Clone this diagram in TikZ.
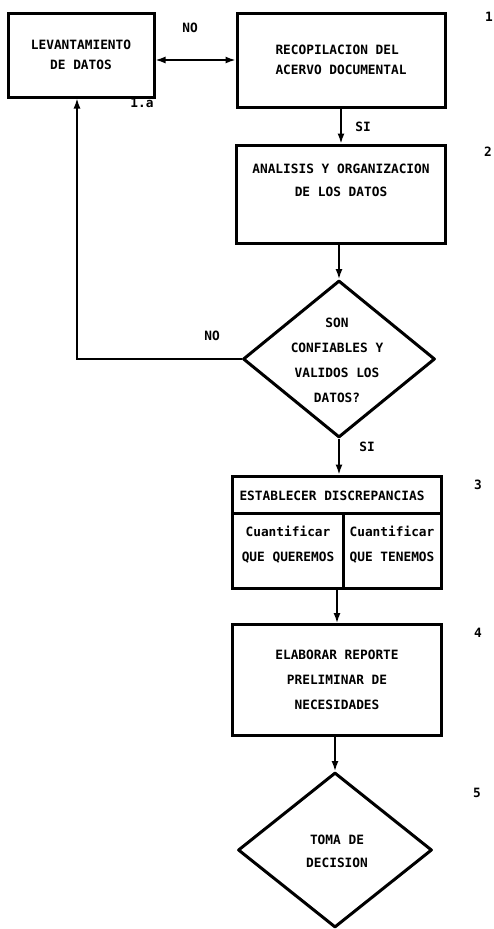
\documentclass[tikz,border=0pt]{standalone}
\usepackage{fontspec}
\setmonofont{DejaVu Sans Mono}
\usetikzlibrary{shapes.geometric,arrows.meta}
\tikzset{
  caja/.style={draw, rectangle, line width=3pt, inner sep=0pt},
  rombo/.style={draw, diamond, line width=3pt, inner sep=0pt, line join=round},
  texto/.style={font=\ttfamily\bfseries\fontsize{12.8}{#1}\selectfont, align=center, inner sep=0pt},
  texto/.default=25,
  flecha/.style={line width=1.5pt, -{Latex[length=10pt,width=7pt]}},
  doble/.style={line width=1.5pt, {Latex[length=10pt,width=7pt]}-{Latex[length=10pt,width=7pt]}}
}
\begin{document}
\begin{tikzpicture}[x=1pt,y=-1pt]
    \useasboundingbox (0,0) rectangle (493,929);

    % cajas del diagrama
    \node[caja, minimum width=146pt, minimum height=84pt, texto=20] (lev) at (81,55) {LEVANTAMIENTO\\DE DATOS};
    \node[caja, minimum width=208pt, minimum height=94pt, texto=20, align=left] (recop) at (341,60) {RECOPILACION DEL\\ACERVO DOCUMENTAL};
    \node[caja, minimum width=209pt, minimum height=98pt, texto=23] (anal) at (341,194) {ANALISIS Y ORGANIZACION\\DE LOS DATOS\\[4pt]};
    \node[rombo, minimum width=192pt, minimum height=157pt] (conf) at (339,359) {};
    \node[texto] (conft) at (337,360) {SON\\CONFIABLES Y\\VALIDOS LOS\\DATOS?};

    \node[caja, minimum width=209pt, minimum height=112pt] (disc) at (337,532) {};
    \draw[line width=3pt] (disc.west |- 0,513) -- (disc.east |- 0,513);
    \draw[line width=3pt] (343,513) -- (343,588);
    \node[texto] (disch) at (332,496) {ESTABLECER DISCREPANCIAS};
    \node[texto] (disca) at (288,545) {Cuantificar\\QUE QUEREMOS};
    \node[texto] (discb) at (392,545) {Cuantificar\\QUE TENEMOS};

    \node[caja, minimum width=209pt, minimum height=111pt, texto] (rep) at (337,680) {ELABORAR REPORTE\\PRELIMINAR DE\\NECESIDADES};
    \node[rombo, minimum width=194pt, minimum height=155pt] (toma) at (335,850) {};
    \node[texto=23] (tomat) at (337,851) {TOMA DE\\DECISION};

    % conectores
    \draw[doble] (lev.east |- recop.west) -- (recop.west);
    \draw[flecha] (recop.south) -- (recop.south |- anal.north);
    \draw[flecha] (conf.north |- anal.south) -- (conf.north);
    \draw[flecha] (conf.west) -| ([xshift=-4pt]lev.south);
    \draw[flecha] (conf.south) -- (conf.south |- disc.north);
    \draw[flecha] (disc.south) -- (rep.north);
    \draw[flecha] (toma.north |- rep.south) -- (toma.north);

    % etiquetas
    \node[texto] (no1) at (190,28) {NO};
    \node[texto] (si1) at (363,127) {SI};
    \node[texto] (no2) at (212,336) {NO};
    \node[texto] (si2) at (367,447) {SI};
    \node[texto] (uno) at (142,103) {1.a};
    \node[texto] (n1) at (489,17) {1};
    \node[texto] (n2) at (488,152) {2};
    \node[texto] (n3) at (478,485) {3};
    \node[texto] (n4) at (478,633) {4};
    \node[texto] (n5) at (477,793) {5};
\end{tikzpicture}
\end{document}
